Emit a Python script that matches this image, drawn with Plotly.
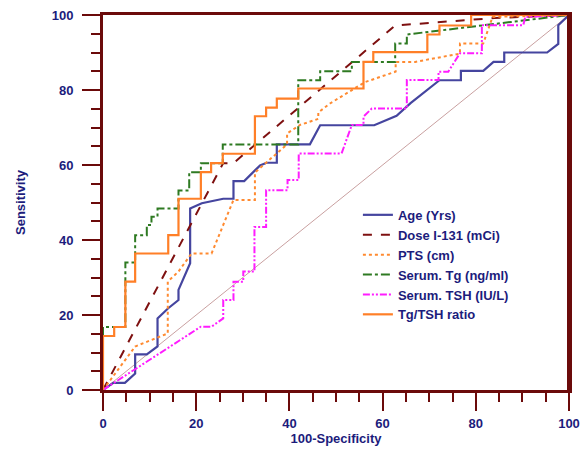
import plotly.graph_objects as go

# ROC curve points (100-Specificity, Sensitivity)
age_x = [0, 2.2, 4.7, 6.9, 6.9, 9.4, 11.7, 11.7, 14.0, 16.2, 16.2, 18.7, 18.7, 21.2, 25.8, 28.0, 28.0, 30.3, 33.7, 35.1, 37.3, 37.3, 44.4, 46.6, 58.2, 63.0, 66.0, 72.2, 76.8, 76.8, 81.6, 83.8, 86.1, 86.1, 95.3, 97.7, 97.7, 100]
age_y = [0, 1.9, 1.9, 4.4, 9.5, 9.5, 11.6, 19.1, 21.8, 24.0, 26.7, 33.8, 48.4, 49.8, 51.0, 51.0, 55.7, 55.7, 59.9, 60.6, 60.6, 65.5, 65.5, 70.6, 70.6, 73.1, 76.5, 82.6, 82.6, 85.1, 85.1, 87.5, 87.5, 90.0, 90.0, 92.3, 97.3, 100]

dose_x = [0, 25.8, 28.0, 62.7, 84.0, 100]
dose_y = [0, 60.5, 60.5, 97.2, 99.2, 100]

pts_x = [0, 6.9, 13.9, 13.9, 16.2, 19.0, 23.3, 28.0, 32.6, 32.6, 39.5, 39.5, 42.3, 46.2, 46.2, 48.7, 56.2, 62.8, 62.8, 67.0, 76.6, 76.6, 81.6, 83.6, 100]
pts_y = [0, 11.6, 15.1, 28.9, 31.6, 36.4, 36.4, 50.7, 50.7, 58.0, 65.5, 68.4, 70.7, 72.3, 74.0, 76.4, 82.1, 84.9, 87.5, 87.5, 89.7, 92.4, 92.4, 99.5, 100]

tg_x = [0, 0, 4.8, 4.8, 6.9, 6.9, 9.4, 9.4, 10.4, 10.4, 11.7, 11.7, 16.2, 16.2, 18.5, 18.5, 21.0, 21.0, 25.7, 25.7, 41.9, 41.9, 46.6, 46.6, 53.4, 53.4, 62.7, 62.7, 65.2, 65.2, 100]
tg_y = [0, 16.8, 16.8, 34.0, 34.0, 41.3, 41.3, 44.0, 44.0, 46.2, 46.2, 48.4, 48.4, 53.2, 53.2, 58.1, 58.1, 60.5, 60.5, 65.5, 65.5, 82.6, 82.6, 85.0, 85.0, 87.5, 87.5, 92.4, 92.4, 94.8, 100]

tsh_x = [0, 21.0, 23.3, 25.8, 25.8, 28.0, 28.0, 30.1, 30.1, 32.5, 32.5, 35.0, 35.0, 39.6, 39.6, 42.0, 42.0, 51.2, 53.4, 55.9, 55.9, 57.7, 65.2, 65.2, 72.0, 72.0, 74.1, 76.6, 81.3, 81.3, 90.2, 90.6, 100]
tsh_y = [0, 16.9, 16.9, 19.1, 24.0, 24.0, 28.9, 28.9, 31.6, 31.6, 43.5, 43.5, 53.3, 53.3, 56.0, 56.0, 63.1, 63.1, 70.7, 70.7, 72.9, 75.1, 75.1, 82.7, 82.7, 84.9, 84.9, 89.8, 89.8, 97.3, 97.3, 99.5, 100]

ratio_x = [0, 0, 2.4, 2.4, 4.8, 4.8, 6.9, 6.9, 14.0, 14.0, 16.2, 16.2, 21.0, 21.0, 23.2, 23.2, 25.7, 25.7, 32.6, 32.6, 35.0, 35.0, 37.3, 37.3, 41.9, 41.9, 55.9, 55.9, 58.0, 58.0, 69.6, 69.6, 72.2, 72.2, 79.0, 79.0, 100]
ratio_y = [0, 14.4, 14.4, 16.8, 16.8, 28.9, 28.9, 36.4, 36.4, 41.3, 41.3, 51.0, 51.0, 58.1, 58.1, 60.5, 60.5, 63.0, 63.0, 73.0, 73.0, 75.3, 75.3, 77.7, 77.7, 80.4, 80.4, 87.5, 87.5, 90.1, 90.1, 94.8, 94.8, 97.2, 97.2, 100, 100]

diag_x = [0, 100]
diag_y = [0, 100]

series_names = ["Age (Yrs)", "Dose I-131 (mCi)", "PTS (cm)", "Serum. Tg (ng/ml)", "Serum. TSH (IU/L)", "Tg/TSH ratio"]

AXIS = "#6B0A0A"
TXT = "#1C1C7C"
FONT = "Liberation Sans, Arial"

fig = go.Figure()
fig.add_trace(go.Scatter(x=diag_x, y=diag_y, mode="lines", showlegend=False,
                         line=dict(color="#C9A0A0", width=1), hoverinfo="skip"))
specs = [
    (age_x, age_y, "#45459F", "solid", 2.2),
    (dose_x, dose_y, "#7E1010", "dash", 2),
    (pts_x, pts_y, "#FF8A30", "dot", 2),
    (tg_x, tg_y, "#2E7A22", "dashdot", 2),
    (tsh_x, tsh_y, "#FF1CFF", "7px,2px,2px,2px,2px,2px", 2),
    (ratio_x, ratio_y, "#FF7F27", "solid", 2.2),
]
for name, (xs, ys, col, dash, w) in zip(series_names, specs):
    fig.add_trace(go.Scatter(x=xs, y=ys, mode="lines", name=name,
                             line=dict(color=col, dash=dash, width=w)))

axis_common = dict(
    range=[0, 100], dtick=20, tick0=0, ticks="outside", ticklen=18, tickwidth=2,
    tickcolor=AXIS, showline=True, linecolor=AXIS, linewidth=3, mirror=True,
    showgrid=False, zeroline=False, automargin=False,
    tickfont=dict(family=FONT, size=13, color=TXT, weight="bold"),
    minor=dict(dtick=5, ticks="outside", ticklen=9, tickwidth=2, tickcolor=AXIS, showgrid=False),
)
fig.update_xaxes(**axis_common, ticklabelstandoff=1,
                 title=dict(text="<b>100-Specificity</b>", standoff=4,
                            font=dict(family=FONT, size=13, color=TXT)))
fig.update_yaxes(**axis_common, ticklabelstandoff=6,
                 title=dict(text="<b>Sensitivity</b>", standoff=24,
                            font=dict(family=FONT, size=13, color=TXT)))

fig.add_shape(type="line", xref="paper", yref="paper", x0=1, x1=1, y0=0, y1=1,
              line=dict(color=AXIS, width=4))

fig.update_layout(
    width=588, height=449,
    margin=dict(l=103, r=19, t=15, b=59),
    paper_bgcolor="white", plot_bgcolor="white",
    legend=dict(x=0.547, y=0.507, xanchor="left", yanchor="top",
                bgcolor="rgba(0,0,0,0)",
                font=dict(family=FONT, size=13, color=TXT, weight="bold"),
                tracegroupgap=0, itemwidth=30),
)
fig.write_html("out.html", config={"displayModeBar": False},
               post_script="document.body.style.margin='0';")
